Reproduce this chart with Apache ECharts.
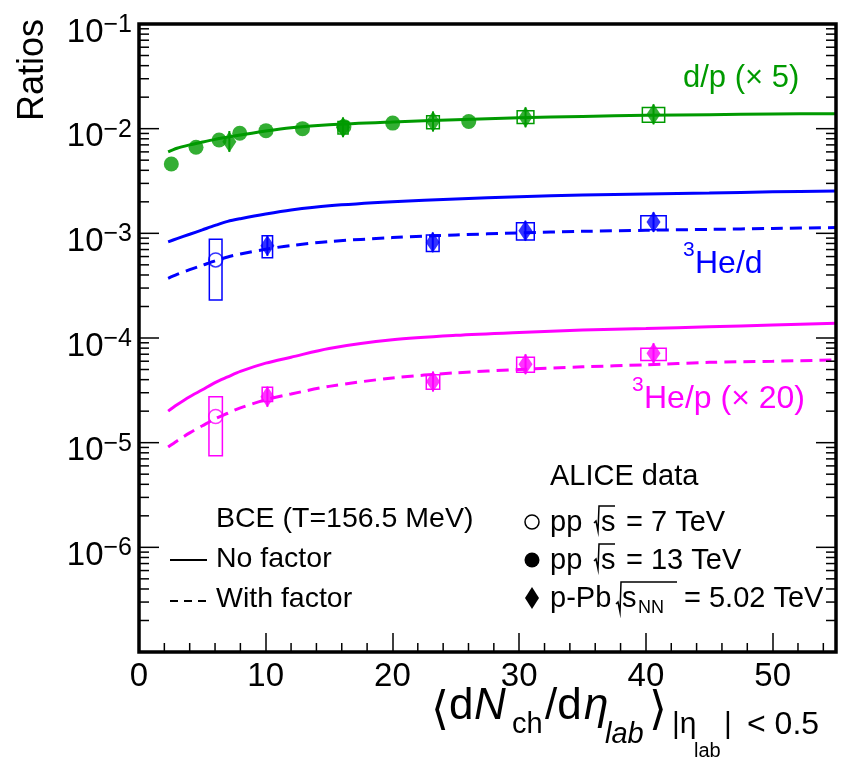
<!DOCTYPE html>
<html><head><meta charset="utf-8">
<script src="https://cdn.jsdelivr.net/npm/echarts@6/dist/echarts.min.js"></script>
<style>html,body{margin:0;padding:0;background:#fff}#c{width:850px;height:773px}</style>
</head><body><div id="c"></div>
<script>
const FONT = '"Liberation Sans", Arial, Helvetica, "DejaVu Sans", sans-serif';
const GREEN = '#009a00', BLUE = '#0000ff', MAG = '#ff00ff';

// ---- axis ranges / ticks ----
const xMin = 0, xMax = 55, xInterval = 10;
const yMin = 1e-7, yMax = 1e-1;
const xMinorTicks = [2,4,6,8,12,14,16,18,22,24,26,28,32,34,36,38,42,44,46,48,52,54];
const yDecades = [-7,-6,-5,-4,-3,-2,-1];

// ---- model curves (BCE, T=156.5 MeV) ----
const curveX      = [2.3, 3, 4, 5, 6, 7, 8, 10, 12, 15, 20, 25, 30, 35, 40, 45, 50, 55];
const dpNoFactor  = [6.0e-3, 6.5e-3, 7.0e-3, 7.45e-3, 7.9e-3, 8.3e-3, 8.7e-3, 9.5e-3, 1.02e-2, 1.09e-2, 1.16e-2, 1.22e-2, 1.27e-2, 1.31e-2, 1.34e-2, 1.36e-2, 1.38e-2, 1.39e-2];
const hedNoFactor = [8.3e-4, 8.9e-4, 9.8e-4, 1.08e-3, 1.19e-3, 1.30e-3, 1.38e-3, 1.53e-3, 1.67e-3, 1.83e-3, 2.0e-3, 2.13e-3, 2.24e-3, 2.32e-3, 2.38e-3, 2.43e-3, 2.49e-3, 2.54e-3];
const hedFactor   = [3.72e-4, 4.05e-4, 4.5e-4, 4.95e-4, 5.45e-4, 5.95e-4, 6.35e-4, 7.05e-4, 7.65e-4, 8.35e-4, 9.1e-4, 9.65e-4, 1.01e-3, 1.045e-3, 1.07e-3, 1.09e-3, 1.115e-3, 1.135e-3];
const hepNoFactor = [2.0e-5, 2.3e-5, 2.75e-5, 3.2e-5, 3.75e-5, 4.25e-5, 4.8e-5, 5.75e-5, 6.55e-5, 7.95e-5, 9.6e-5, 1.06e-4, 1.13e-4, 1.19e-4, 1.23e-4, 1.28e-4, 1.33e-4, 1.38e-4];
const hepFactor   = [9.1e-6, 1.04e-5, 1.24e-5, 1.45e-5, 1.69e-5, 1.91e-5, 2.15e-5, 2.57e-5, 2.92e-5, 3.45e-5, 4.15e-5, 4.65e-5, 5.0e-5, 5.3e-5, 5.55e-5, 5.85e-5, 6.0e-5, 6.17e-5];

// ---- ALICE data ----
// d/p (x5), pp 13 TeV
const dpPP13X = [2.55, 4.5, 6.32, 7.95, 10.02, 12.9, 16.17, 20.02, 26.02];
const dpPP13Y = [4.6e-3, 6.64e-3, 7.8e-3, 9.03e-3, 9.57e-3, 1.0e-2, 1.045e-2, 1.13e-2, 1.17e-2];
// d/p (x5), p-Pb 5.02 TeV
const dpPPbX = [7.13, 16.1, 23.2, 30.5, 40.6];
const dpPPbY = [7.5e-3, 1.03e-2, 1.17e-2, 1.285e-2, 1.37e-2];
const dpPPbStatLo = [6.0e-3, 8.3e-3, 9.4e-3, 1.03e-2, 1.1e-2];
const dpPPbStatHi = [9.5e-3, 1.28e-2, 1.46e-2, 1.6e-2, 1.71e-2];
const dpBoxX  = [16.1, 23.2, 30.5, 40.6];
const dpBoxLo = [8.9e-3, 1.0e-2, 1.12e-2, 1.15e-2];
const dpBoxHi = [1.17e-2, 1.33e-2, 1.48e-2, 1.59e-2];
const dpBoxHW = [0.4, 0.5, 0.66, 0.88];

// 3He/d
const hedPP7X = [6.05], hedPP7Y = [5.57e-4];
const hedPPbX = [10.13, 23.18, 30.49, 40.6];
const hedPPbY = [7.59e-4, 8.22e-4, 1.06e-3, 1.28e-3];
const hedStatLo = [6.1e-4, 6.6e-4, 8.5e-4, 1.03e-3];
const hedStatHi = [9.45e-4, 1.02e-3, 1.32e-3, 1.59e-3];
const hedBoxX  = [6.05, 10.13, 23.18, 30.49, 40.6];
const hedBoxLo = [2.31e-4, 5.86e-4, 6.69e-4, 8.65e-4, 1.08e-3];
const hedBoxHi = [8.8e-4, 9.5e-4, 9.66e-4, 1.26e-3, 1.47e-3];
const hedBoxHW = [0.5, 0.41, 0.5, 0.7, 1.0];

// 3He/p (x20)
const hepPP7X = [6.05], hepPP7Y = [1.78e-5];
const hepPPbX = [10.13, 23.2, 30.5, 40.6];
const hepPPbY = [2.75e-5, 3.84e-5, 5.62e-5, 7.16e-5];
const hepStatLo = [2.2e-5, 3.08e-5, 4.51e-5, 5.75e-5];
const hepStatHi = [3.43e-5, 4.78e-5, 7.0e-5, 8.92e-5];
const hepBoxX  = [6.05, 10.13, 23.2, 30.5, 40.6];
const hepBoxLo = [7.48e-6, 2.47e-5, 3.24e-5, 4.71e-5, 6.08e-5];
const hepBoxHi = [2.75e-5, 3.39e-5, 4.45e-5, 6.56e-5, 7.98e-5];
const hepBoxHW = [0.53, 0.41, 0.53, 0.7, 1.0];

// ---- helpers ----
const zip = (xs, ys) => xs.map((x, i) => [x, ys[i]]);
function boxSeries(xs, lo, hi, hw, color) {
  return {
    type: 'custom', z: 3, silent: true,
    data: xs.map((x, i) => [x, lo[i], hi[i], hw[i]]),
    encode: { x: 0, y: [1, 2] },
    renderItem: (params, api) => {
      const x = api.value(0), w = api.value(3);
      const p1 = api.coord([x - w, api.value(2)]);
      const p2 = api.coord([x + w, api.value(1)]);
      return { type: 'rect', shape: { x: p1[0], y: p1[1], width: p2[0] - p1[0], height: p2[1] - p1[1] },
               style: { fill: 'none', stroke: color, lineWidth: 1.5 } };
    }
  };
}
function statSeries(xs, lo, hi, color) {
  return {
    type: 'custom', z: 3, silent: true,
    data: xs.map((x, i) => [x, lo[i], hi[i]]),
    encode: { x: 0, y: [1, 2] },
    renderItem: (params, api) => {
      const a = api.coord([api.value(0), api.value(1)]);
      const b = api.coord([api.value(0), api.value(2)]);
      return { type: 'line', shape: { x1: a[0], y1: a[1], x2: b[0], y2: b[1] },
               style: { stroke: color, lineWidth: 2 } };
    }
  };
}
function curve(ys, color, dashed) {
  return { type: 'line', z: 2, silent: true, showSymbol: false, smooth: 0.3,
           data: zip(curveX, ys),
           lineStyle: { color: color, width: 3, type: dashed ? [12, 7] : 'solid' } };
}
function markers(xs, ys, color, symbol, size, hollow) {
  return { type: 'scatter', z: 5, silent: true, symbol: symbol, symbolSize: size,
           data: zip(xs, ys),
           itemStyle: hollow ? { color: 'rgba(0,0,0,0)', borderColor: color, borderWidth: 1.5 }
                             : { color: color } };
}
// tick marks (inside, log minor ticks on y, minor ticks on x)
const yTickData = [];
yDecades.forEach(e => {
  for (let m = 1; m <= 9; m++) {
    const v = m * Math.pow(10, e);
    if (v >= yMin * 0.999 && v <= yMax * 1.001) yTickData.push([xMin, v, m === 1 ? 20 : 10]);
  }
});
const tickSeries = [{
  type: 'custom', z: 6, silent: true, clip: false,
  data: yTickData, encode: { x: 0, y: 1 },
  renderItem: (params, api) => {
    const l = api.coord([xMin, api.value(1)]);
    const r = api.coord([xMax, api.value(1)]);
    const len = api.value(2);
    return { type: 'group', children: [
      { type: 'line', shape: { x1: l[0], y1: l[1], x2: l[0] + len, y2: l[1] }, style: { stroke: '#000', lineWidth: 1.5 } },
      { type: 'line', shape: { x1: r[0], y1: r[1], x2: r[0] - len, y2: r[1] }, style: { stroke: '#000', lineWidth: 1.5 } }
    ] };
  }
}, {
  type: 'custom', z: 6, silent: true, clip: false,
  data: xMinorTicks.map(x => [x, yMin]), encode: { x: 0, y: 1 },
  renderItem: (params, api) => {
    const p = api.coord([api.value(0), yMin]);
    return { type: 'line', shape: { x1: p[0], y1: p[1], x2: p[0], y2: p[1] - 9 }, style: { stroke: '#000', lineWidth: 1.5 } };
  }
}];

// ---- text / legend graphics ----
function txt(x, y, text, size, color, extra) {
  return Object.assign({ type: 'text', x: x, y: y, z: 100,
    style: Object.assign({ text: text, font: size + 'px ' + FONT, fill: color || '#000', align: 'left', verticalAlign: 'middle' }, extra || {}) });
}
function itxt(x, y, text, size, color) {
  return { type: 'text', x: x, y: y, z: 100,
    style: { text: text, font: 'italic ' + size + 'px ' + FONT, fill: color || '#000', align: 'left', verticalAlign: 'middle' } };
}
function radical(x, yTop, yBot, w) {
  return { type: 'polyline', z: 100, shape: { points: [[x - 4, yBot - 8], [x - 2, yBot - 10], [x, yBot], [x + 1, yTop], [x + 1 + w, yTop]] },
           style: { stroke: '#000', lineWidth: 1.5, fill: null } };
}
const graphics = [
  // y title
  { type: 'text', x: 33, y: 70, rotation: Math.PI / 2, z: 100,
    style: { text: 'Ratios', font: '36px ' + FONT, fill: '#000', align: 'center', verticalAlign: 'middle' } },
  // x title
  { type: 'text', x: 440, y: 712, z: 100, style: { text: '⟨', font: '46px "DejaVu Sans", ' + FONT, fill: '#000', align: 'center', verticalAlign: 'middle' } },
  txt(449, 707, 'd', 44),
  itxt(474, 707, 'N', 44),
  txt(512, 725, 'ch', 29),
  txt(545, 707, '/d', 44),
  itxt(584, 707, 'η', 44),
  itxt(605, 735, 'lab', 29),
  { type: 'text', x: 658, y: 712, z: 100, style: { text: '⟩', font: '46px "DejaVu Sans", ' + FONT, fill: '#000', align: 'center', verticalAlign: 'middle' } },
  txt(672, 725, '|η', 30),
  txt(694, 751, 'lab', 20),
  txt(724, 725, '|', 30),
  txt(747, 725, '< 0.5', 32),
  // series labels
  txt(683, 78, 'd/p (× 5)', 31, GREEN),
  txt(683, 250, '3', 21, BLUE),
  txt(695, 264, 'He/d', 32, BLUE),
  txt(632, 385, '3', 21, MAG),
  txt(644, 399, 'He/p (× 20)', 32, MAG),
  // BCE legend
  txt(216, 519, 'BCE (T=156.5 MeV)', 28.5),
  { type: 'line', z: 100, shape: { x1: 170, y1: 560, x2: 207, y2: 560 }, style: { stroke: '#000', lineWidth: 2 } },
  txt(216, 559, 'No factor', 28.5),
  { type: 'line', z: 100, shape: { x1: 170, y1: 601, x2: 207, y2: 601 }, style: { stroke: '#000', lineWidth: 2, lineDash: [8, 6] } },
  txt(216, 599, 'With factor', 28.5),
  // ALICE legend
  txt(550, 477, 'ALICE data', 29),
  { type: 'circle', z: 100, shape: { cx: 532, cy: 522, r: 7 }, style: { fill: null, stroke: '#000', lineWidth: 1.5 } },
  txt(550, 523, 'pp', 29),
  radical(598, 506, 531, 16),
  txt(601, 523, 's', 29),
  txt(626, 523, '= 7 TeV', 29),
  { type: 'circle', z: 100, shape: { cx: 532, cy: 560, r: 7.5 }, style: { fill: '#000' } },
  txt(550, 561, 'pp', 29),
  radical(598, 544, 569, 16),
  txt(601, 561, 's', 29),
  txt(626, 561, '= 13 TeV', 29),
  { type: 'polygon', z: 100, shape: { points: [[532, 587], [539, 598], [532, 609], [525, 598]] }, style: { fill: '#000' } },
  txt(550, 599, 'p-Pb', 29),
  radical(620, 582, 612, 56),
  txt(622, 599, 's', 29),
  txt(638, 608, 'NN', 18),
  txt(684, 599, '= 5.02 TeV', 29)
];

const option = {
  animation: false,
  backgroundColor: '#fff',
  grid: { left: 139, right: 14, top: 24, bottom: 121, show: true, borderColor: '#000', borderWidth: 3.5, backgroundColor: 'transparent', z: 10 },
  xAxis: {
    type: 'value', min: xMin, max: xMax, interval: xInterval,
    axisLine: { show: false },
    axisTick: { show: true, inside: true, length: 19, lineStyle: { color: '#000', width: 1.5 } },
    splitLine: { show: false },
    axisLabel: { showMaxLabel: false, color: '#000', fontFamily: FONT, fontSize: 33, margin: 8, lineHeight: 33 }
  },
  yAxis: {
    type: 'log', logBase: 10, min: yMin, max: yMax, splitNumber: 6,
    axisLine: { show: false }, axisTick: { show: false }, splitLine: { show: false },
    axisLabel: {
      color: '#000', fontFamily: FONT, margin: 7, padding: [17, 0, 0, 0],
      formatter: v => { const e = Math.round(Math.log10(v)); return e <= -7 ? '' : '{b|10}{s|−' + (-e) + '}'; },
      rich: {
        b: { fontSize: 33, lineHeight: 40, fontFamily: FONT, color: '#000' },
        s: { fontSize: 25, lineHeight: 21, verticalAlign: 'top', fontFamily: FONT, color: '#000' }
      }
    }
  },
  series: [
    curve(dpNoFactor, GREEN, false),
    curve(hedNoFactor, BLUE, false),
    curve(hedFactor, BLUE, true),
    curve(hepNoFactor, MAG, false),
    curve(hepFactor, MAG, true),
    boxSeries(dpBoxX, dpBoxLo, dpBoxHi, dpBoxHW, GREEN),
    boxSeries(hedBoxX, hedBoxLo, hedBoxHi, hedBoxHW, BLUE),
    boxSeries(hepBoxX, hepBoxLo, hepBoxHi, hepBoxHW, MAG),
    statSeries(dpPPbX, dpPPbStatLo, dpPPbStatHi, GREEN),
    statSeries(hedPPbX, hedStatLo, hedStatHi, BLUE),
    statSeries(hepPPbX, hepStatLo, hepStatHi, MAG),
    markers(dpPP13X, dpPP13Y, GREEN, 'circle', 15, false),
    markers(dpPPbX, dpPPbY, GREEN, 'diamond', [14, 21], false),
    markers(hedPPbX, hedPPbY, BLUE, 'diamond', [14, 21], false),
    markers(hedPP7X, hedPP7Y, BLUE, 'circle', 14, true),
    markers(hepPPbX, hepPPbY, MAG, 'diamond', [14, 21], false),
    markers(hepPP7X, hepPP7Y, MAG, 'circle', 14, true)
  ].concat(tickSeries),
  graphic: graphics
};
const chart = echarts.init(document.getElementById('c'), null, { renderer: 'canvas' });
chart.setOption(option);
</script>
</body></html>
